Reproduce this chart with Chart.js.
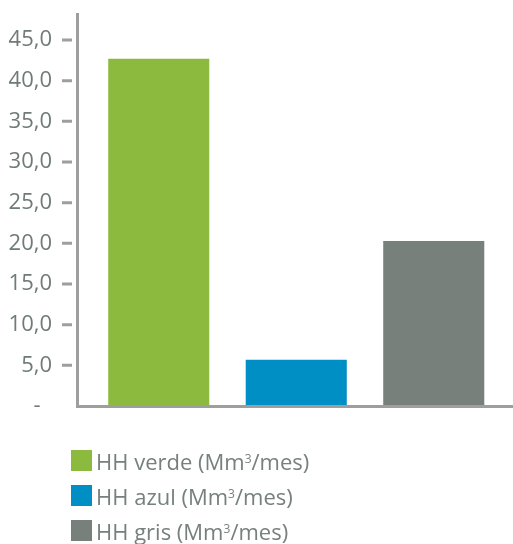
<!DOCTYPE html>
<html>
<head>
<meta charset="utf-8">
<script src="https://cdn.jsdelivr.net/npm/chart.js@4/dist/chart.umd.min.js"></script>
<style>
  html, body { margin: 0; padding: 0; background: #fff; }
  #wrap { position: relative; width: 513px; height: 544px; }
  #legend { position: absolute; left: 71px; top: 450px; font-family: "Open Sans", sans-serif; font-size: 22px; color: #76807c; }
  .item { display: flex; align-items: center; height: 21px; margin-bottom: 14px; white-space: nowrap; }
  .box { width: 21px; height: 21px; margin-right: 4px; flex: none; }
  .item sup { font-size: 12px; vertical-align: 0; position: relative; top: -7px; }
</style>
</head>
<body>
<div id="wrap">
  <canvas id="c" width="513" height="544"></canvas>
  <div id="legend"></div>
</div>
<script>
// Huella hídrica mensual por tipo
const categories = ['HH verde', 'HH azul', 'HH gris'];
const values = [42.7, 5.7, 20.3];
const colors = ['#8cba3f', '#008fc4', '#78807c'];
const unitLabel = ' (Mm<sup>3</sup>/mes)';
const yTicks = [0, 5, 10, 15, 20, 25, 30, 35, 40, 45];

const axisColor = '#9e9e9e';

function fmt(v) {
  return v === 0 ? '-  ' : v.toFixed(1).replace('.', ',');
}

// Axis lines and outside tick marks
const axesPlugin = {
  id: 'axes',
  afterDatasetsDraw(chart) {
    const ctx = chart.ctx;
    const y = chart.scales.y;
    const zero = y.getPixelForValue(0);
    ctx.save();
    ctx.strokeStyle = axisColor;
    ctx.lineWidth = 3;
    ctx.beginPath();
    ctx.moveTo(77.5, 13);
    ctx.lineTo(77.5, zero + 2);
    ctx.moveTo(76, zero + 0.5);
    ctx.lineTo(513, zero + 0.5);
    yTicks.forEach(t => {
      if (t === 0) return;
      const p = y.getPixelForValue(t);
      ctx.moveTo(62, p);
      ctx.lineTo(72, p);
    });
    ctx.stroke();
    ctx.restore();
  }
};

new Chart(document.getElementById('c'), {
  type: 'bar',
  data: {
    labels: categories,
    datasets: [{
      data: values,
      backgroundColor: colors,
      borderWidth: 0,
      barPercentage: 0.735,
      categoryPercentage: 1
    }]
  },
  options: {
    responsive: false,
    animation: false,
    layout: { padding: { left: 0, right: 10.5, top: 40, bottom: 138 } },
    plugins: { legend: { display: false }, tooltip: { enabled: false } },
    scales: {
      x: { display: false },
      y: {
        min: 0,
        max: 45,
        afterFit(s) { s.width = 90; s.paddingTop = 0; s.paddingBottom = 0; },
        afterBuildTicks(s) { s.ticks = yTicks.map(v => ({ value: v })); },
        grid: { display: false, drawTicks: false },
        border: { display: false },
        ticks: {
          padding: 38,
          color: '#6f7b77',
          font: { family: 'Open Sans', size: 22 },
          callback: v => fmt(v)
        }
      }
    }
  },
  plugins: [axesPlugin]
});

// Legend rows built from the same categories and colours
const legend = document.getElementById('legend');
categories.forEach((c, i) => {
  const row = document.createElement('div');
  row.className = 'item';
  row.innerHTML = '<span class="box" style="background:' + colors[i] + '"></span><span>' + c + unitLabel + '</span>';
  legend.appendChild(row);
});
</script>
</body>
</html>
